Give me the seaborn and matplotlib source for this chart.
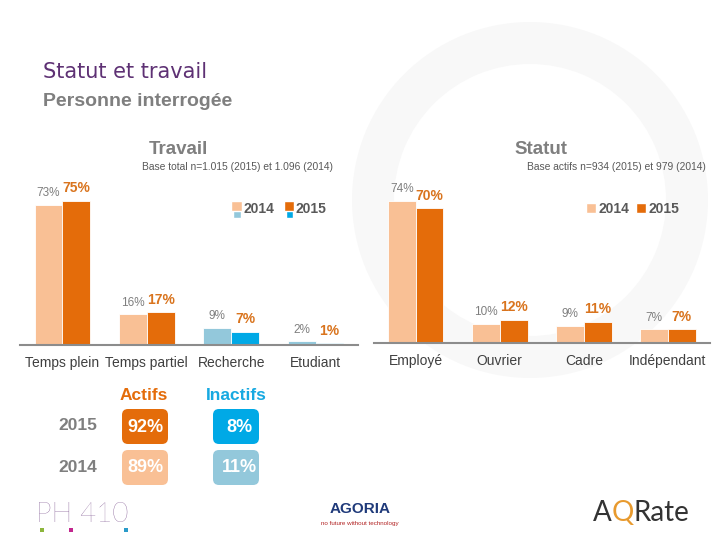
import numpy as np
import pandas as pd
import matplotlib
matplotlib.use("Agg")
import matplotlib.pyplot as plt
import seaborn as sns
from matplotlib.patches import Rectangle, Patch, FancyBboxPatch, Wedge
from matplotlib.legend_handler import HandlerBase

# data
travail_cats = ["Temps plein", "Temps partiel", "Recherche", "Etudiant"]
travail_2014 = [73, 16, 9, 2]
travail_2015 = [75, 17, 7, 1]
travail_blue = [False, False, True, True]

statut_cats = ["Employé", "Ouvrier", "Cadre", "Indépendant"]
statut_2014 = [74, 10, 9, 7]
statut_2015 = [70, 12, 11, 7]
statut_blue = [False, False, False, False]

table_years = ["2015", "2014"]
actifs_pct = [92, 89]
inactifs_pct = [8, 11]

PEACH = "#F9C095"
ORANGE = "#E46C0A"
LBLUE = "#93C8DB"
BLUE = "#00A9E6"
GREY = "#7F7F7F"
DARK = "#404040"

sns.set_theme(style="white")
plt.rcParams['font.family'] = ['Liberation Sans', 'DejaVu Sans']

fig = plt.figure(figsize=(7.2, 5.4), dpi=100)

# background layer in pixel coordinates (text, table, logos)
bg = fig.add_axes([0, 0, 1, 1], zorder=0)
bg.set_xlim(0, 720)
bg.set_ylim(540, 0)
bg.axis("off")
bg.add_patch(Wedge((530, 200), 178, 0, 360, width=42, facecolor="#F8F8F8", edgecolor="none"))


class Pair:
    def __init__(self, top, bot):
        self.top = top
        self.bot = bot


class PairHandler(HandlerBase):
    def create_artists(self, legend, orig_handle, xdescent, ydescent, width, height, fontsize, trans):
        s = height * 0.95
        x0 = -xdescent + width - 1.1 * s
        r1 = Rectangle((x0, -ydescent + 0.2 * s), s, s, facecolor=orig_handle.top, transform=trans)
        r2 = Rectangle((x0 + 0.2 * s, -ydescent - 0.4 * s), 0.75 * s, 0.75 * s,
                       facecolor=orig_handle.bot, transform=trans)
        return [r2, r1]


def draw_panel(rect, cats, v14, v15, blue):
    ax = fig.add_axes(rect, zorder=1)
    ax.patch.set_alpha(0)
    df = pd.DataFrame({"cat": cats * 2,
                       "year": ["2014"] * len(cats) + ["2015"] * len(cats),
                       "pct": v14 + v15})
    sns.barplot(data=df, x="cat", y="pct", hue="year", palette=[PEACH, ORANGE],
                width=0.66, ax=ax, legend=False, edgecolor="white", linewidth=0.6,
                saturation=1)
    for i, cont in enumerate(ax.containers):
        for j, bar in enumerate(cont):
            if blue[j]:
                bar.set_facecolor(LBLUE if i == 0 else BLUE)
    ax.bar_label(ax.containers[0], labels=[f"{v}%" for v in v14], padding=4,
                 fontsize=8.5, color=GREY)
    ax.bar_label(ax.containers[1], labels=[f"{v}%" for v in v15], padding=4,
                 fontsize=10, color="#D9741E", fontweight="bold")
    ax.set_ylim(0, 100)
    ax.set_xlim(-0.5, len(cats) - 0.5)
    for s in ["top", "right", "left"]:
        ax.spines[s].set_visible(False)
    ax.spines["bottom"].set_color("#8C8C8C")
    ax.spines["bottom"].set_linewidth(1.5)
    ax.set_yticks([])
    ax.set_xlabel("")
    ax.set_ylabel("")
    ax.set_xticks(np.arange(len(cats) + 1) - 0.5, minor=True)
    ax.tick_params(axis="x", which="major", length=0, pad=8, labelsize=10, labelcolor=DARK)
    ax.tick_params(axis="x", which="minor", length=5, width=1.5, color="#8C8C8C", direction="out")
    return ax


ax1 = draw_panel([0.028, 0.361, 0.469, 0.356], travail_cats, travail_2014, travail_2015, travail_blue)
ax2 = draw_panel([0.519, 0.365, 0.467, 0.356], statut_cats, statut_2014, statut_2015, statut_blue)

leg1 = ax1.legend([Pair(PEACH, LBLUE), Pair(ORANGE, BLUE)], ["2014", "2015"],
                  handler_map={Pair: PairHandler()}, loc="center",
                  bbox_to_anchor=(279 / 720, 1 - 209 / 540), bbox_transform=fig.transFigure,
                  ncol=2, frameon=False, handlelength=0.8, handleheight=0.8,
                  handletextpad=0.05, columnspacing=0.7,
                  prop={"size": 10, "weight": "bold"})
for t in leg1.get_texts():
    t.set_color("#595959")

leg2 = ax2.legend([Patch(facecolor=PEACH), Patch(facecolor=ORANGE)], ["2014", "2015"],
                  loc="center", bbox_to_anchor=(633 / 720, 1 - 209 / 540),
                  bbox_transform=fig.transFigure, ncol=2, frameon=False,
                  handlelength=0.7, handleheight=0.7, handletextpad=0.2, columnspacing=0.5,
                  prop={"size": 10, "weight": "bold"})
for t in leg2.get_texts():
    t.set_color("#595959")

# titles
bg.text(43, 72, "Statut et travail", fontsize=15, color="#5E3174", family="DejaVu Sans",
        va="center", ha="left")
bg.text(43, 101, "Personne interrogée", fontsize=14, color=GREY, fontweight="bold",
        va="center", ha="left")
bg.text(178, 149, "Travail", fontsize=13.5, color=GREY, fontweight="bold", ha="center", va="center")
bg.text(541, 149, "Statut", fontsize=13.5, color=GREY, fontweight="bold", ha="center", va="center")
bg.text(237, 167, "Base total n=1.015 (2015) et 1.096 (2014)", fontsize=7.4, color="#595959",
        ha="center", va="center")
bg.text(616, 167, "Base actifs n=934 (2015) et 979 (2014)", fontsize=7.4, color="#595959",
        ha="center", va="center")

# actifs / inactifs table
bg.text(144, 395, "Actifs", fontsize=12.5, color=ORANGE, fontweight="bold", ha="center", va="center")
bg.text(236, 395, "Inactifs", fontsize=12.5, color="#17A9E1", fontweight="bold", ha="center", va="center")
row_y = [426, 467]
box_cols = [(ORANGE, BLUE), (PEACH, LBLUE)]
for yr, a, ina, y, (ca, ci) in zip(table_years, actifs_pct, inactifs_pct, row_y, box_cols):
    bg.text(78, y, yr, fontsize=12.5, color=GREY, fontweight="bold", ha="center", va="center")
    bg.add_patch(FancyBboxPatch((122, y - 17), 46, 35, boxstyle="round,pad=0,rounding_size=6",
                                facecolor=ca, edgecolor="none"))
    bg.add_patch(FancyBboxPatch((213, y - 17), 46, 35, boxstyle="round,pad=0,rounding_size=6",
                                facecolor=ci, edgecolor="none"))
    bg.text(145, y + 1, f"{a}%", fontsize=13, color="white", fontweight="bold", ha="center", va="center")
    bg.text(239, y + 1, f"{ina}%", fontsize=13, color="white", fontweight="bold", ha="center", va="center")

# logos approximated as text
bg.text(36, 514, "PH 410", fontsize=20, color="#6A3A7E", family="Lato", fontweight="light",
        ha="left", va="center")
for x, c in [(40, "#8DB63C"), (69, "#C2278E"), (124, "#2A9BC9")]:
    bg.add_patch(Rectangle((x, 528), 4, 4, facecolor=c, edgecolor="none"))
bg.text(360, 509, "AGORIA", fontsize=11, color="#1F3A7A", fontweight="bold", ha="center", va="center")
bg.text(360, 523, "no future without technology", fontsize=4.5, color="#B22222", ha="center", va="center")
tA = bg.text(593, 513, "A", fontsize=20, color="#333333", family="Lato", ha="left", va="center")
tQ = bg.annotate("Q", xy=(1, 0.5), xycoords=tA, fontsize=20, color="#E89A2E", family="Lato",
                 ha="left", va="center")
bg.annotate("Rate", xy=(1, 0.5), xycoords=tQ, fontsize=20, color="#333333", family="Lato",
            ha="left", va="center")

plt.savefig("out.png", dpi=100)
